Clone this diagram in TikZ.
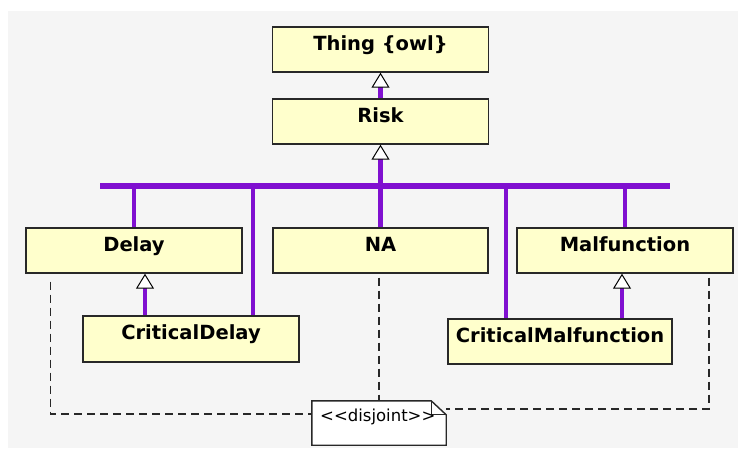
\documentclass[tikz,border=0pt]{standalone}
\usepackage{fontspec}
\setmainfont{DejaVu Sans}
\newfontfamily\notefont{DejaVu Sans}
\usetikzlibrary{arrows.meta}
\definecolor{bgc}{RGB}{245,245,245}
\definecolor{boxc}{RGB}{255,255,204}
\definecolor{purp}{RGB}{128,16,208}
\definecolor{edge}{RGB}{40,40,40}
\begin{document}
\begin{tikzpicture}[x=1pt,y=-1pt,
  cls/.style={draw=edge, line width=1.4pt, fill=boxc, inner sep=0pt,
    text height=23pt, text depth=22pt, minimum width=216pt,
    font=\fontsize{19.5}{20}\selectfont\bfseries},
  gen/.style={draw=purp, line width=4.5pt},
  genarr/.style={gen, -{Triangle[color=black, fill=white, line width=1pt, length=15pt, width=18pt]}},
  busline/.style={draw=purp, line width=6pt},
  dep/.style={draw=edge, line width=1.6pt, dash pattern=on 8pt off 5pt},
  notebox/.style={draw=edge, line width=1.4pt, fill=white},
]
\useasboundingbox (0,0) rectangle (738,448);
\fill[white] (0,0) rectangle (738,448);
\fill[bgc] (8,11) rectangle (738,448);

% class boxes
\node[cls] (thing) at (380.5,49.5) {Thing \{owl\}};
\node[cls] (risk) at (380.5,121.5) {Risk};
\node[cls] (delay) at (134,250.5) {Delay};
\node[cls, minimum width=215pt] (na) at (380.5,250.5) {NA};
\node[cls] (malf) at (625,250.5) {Malfunction};
\node[cls, text depth=23pt] (cdelay) at (191,339) {CriticalDelay};
\node[cls, minimum width=224pt] (cmalf) at (560,341.5) {CriticalMalfunction};

% note
\path node[minimum width=134pt, minimum height=44pt, inner sep=0pt] (note) at (379,423) {};
\draw[notebox] (note.north west) -- ([xshift=-15pt]note.north east)
  -- ([yshift=-14pt]note.north east) -- (note.south east)
  -- (note.south west) -- cycle;
\draw[draw=edge, line width=1pt] ([xshift=-15pt]note.north east)
  -- ([shift={(-15pt,-14pt)}]note.north east) -- ([yshift=-14pt]note.north east);
\node[anchor=base west, inner sep=0pt, font=\notefont\fontsize{16.5}{18}\selectfont]
  (notetext) at (320,421) {<{}<disjoint>{}>};

% generalisation bus
\coordinate (busL) at (100,186);
\coordinate (busR) at (670,186);
\coordinate (b1) at (134,186);
\coordinate (b2) at (253,186);
\coordinate (b4) at (506,186);
\coordinate (b5) at (625,186);
\draw[busline] (busL) -- (busR);
\draw[gen] (b1) -- (b1 |- delay.north);
\draw[gen] (b2) -- (b2 |- cdelay.north);
\draw[gen] (b4) -- (b4 |- cmalf.north);
\draw[gen] (b5) -- (b5 |- malf.north);
\draw[gen] (na.north) -- (na.north |- busL);
\draw[genarr] (risk.south |- busL) -- (risk.south);
\draw[genarr] (risk.north) -- (thing.south);

% direct generalisations
\coordinate (d1) at ([xshift=11pt]delay.south);
\coordinate (m1) at ([xshift=-3pt]malf.south);
\draw[genarr] (d1 |- cdelay.north) -- (d1);
\draw[genarr] (m1 |- cmalf.north) -- (m1);

% disjoint dependencies
\draw[dep] ([shift={(25pt,-8pt)}]delay.south west) |- ([yshift=9pt]note.west);
\draw[dep] ([yshift=-4pt]note.north |- na.south) -- (note.north);
\draw[dep] ([shift={(-25pt,-4pt)}]malf.south east) |- ([yshift=14pt]note.east);
\end{tikzpicture}
\end{document}
